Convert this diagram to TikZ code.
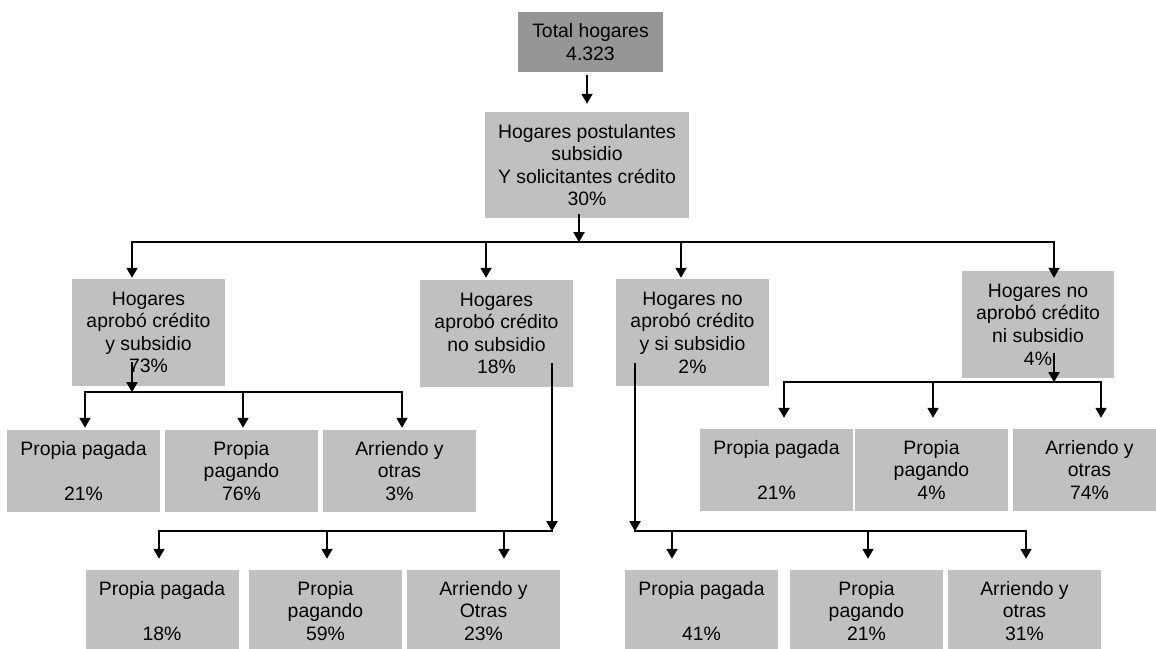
\documentclass[tikz,border=0pt]{standalone}
\usepackage{fontspec}
\setmainfont{Liberation Sans}
\usetikzlibrary{arrows.meta,calc}
\definecolor{boxgray}{HTML}{C0C0C0}
\definecolor{topgray}{HTML}{969696}
\begin{document}
\begin{tikzpicture}[x=1pt,y=-1pt,
  box/.style={fill=boxgray, draw=none, inner sep=0pt, align=center,
    font=\fontsize{19.4}{22.6}\selectfont, minimum width=153pt,
    minimum height=82pt, text=black},
  big/.style={box, minimum height=107pt},
  conn/.style={line width=1.8pt, draw=black},
  hconn/.style={conn, line cap=rect},
  arr/.style={conn, -{Triangle[width=11pt,length=10pt]}}
]
\useasboundingbox (0,0) rectangle (1156,648);

% boxes
\node[box, fill=topgray, minimum width=145pt, minimum height=60pt] (T) at (590.5,42) {Total hogares\\4.323};
\node[box, minimum width=204pt, minimum height=106pt] (P) at (587,165) {Hogares postulantes\\subsidio\\Y solicitantes crédito\\30\%};
\node[big] (A) at (148.5,332.5) {Hogares\\aprobó crédito\\y subsidio\\73\%};
\node[big] (B) at (496.5,333.5) {Hogares\\aprobó crédito\\no subsidio\\18\%};
\node[big] (C) at (692.5,332.5) {Hogares no\\aprobó crédito\\y si subsidio\\2\%};
\node[big, minimum width=152pt] (D) at (1038,324.5) {Hogares no\\aprobó crédito\\ni subsidio\\4\%};

\node[box] (A1) at (83.5,471) {Propia pagada\\~\\21\%};
\node[box] (A2) at (241.5,471) {Propia\\pagando\\76\%};
\node[box] (A3) at (399.5,471) {Arriendo y\\otras\\3\%};

\node[box] (D1) at (776.5,470) {Propia pagada\\~\\21\%};
\node[box] (D2) at (931.5,470) {Propia\\pagando\\4\%};
\node[box] (D3) at (1089.5,470) {Arriendo y\\otras\\74\%};

\node[box] (B1) at (162,611) {Propia pagada\\~\\18\%};
\node[box] (B2) at (325.5,611) {Propia\\pagando\\59\%};
\node[box] (B3) at (483.5,611) {Arriendo y\\Otras\\23\%};

\node[box] (C1) at (701.5,611) {Propia pagada\\~\\41\%};
\node[box] (C2) at (866.5,611) {Propia\\pagando\\21\%};
\node[box] (C3) at (1024.5,611) {Arriendo y\\otras\\31\%};

% top connectors
\draw[arr] ($(T.south -| P.north)+(0,3)$) -- ($(P.north)+(0,-8)$);
\coordinate (bus) at ($(P.south)+(-8,24)$);
\draw[arr] ($(P.south)+(-8,-4)$) -- (bus);
\draw[hconn] ($(bus -| A.north)+(-16.5,0)$) -- ($(bus -| D.north)+(16,0)$);
\draw[arr] ($(bus -| A.north)+(-16.5,0)$) -- ($(A.north)+(-16.5,-1)$);
\draw[arr] ($(bus -| B.north)+(-10.5,0)$) -- ($(B.north)+(-10.5,-2)$);
\draw[arr] ($(bus -| C.north)+(-11.5,0)$) -- ($(C.north)+(-11.5,-1)$);
\draw[arr] ($(bus -| D.north)+(16,0)$) -- ($(D.north)+(16,7)$);

% A group
\coordinate (abus) at ($(A.south)+(-16.5,6)$);
\draw[arr] ($(A.south)+(-16.5,-24)$) -- (abus);
\draw[hconn] ($(abus -| A1.north)+(1.5,0)$) -- ($(abus -| A3.north)+(2.5,0)$);
\draw[arr] ($(abus -| A1.north)+(1.5,0)$) -- ($(A1.north)+(1.5,-2)$);
\draw[arr] ($(abus -| A2.north)+(1.5,0)$) -- ($(A2.north)+(1.5,-2)$);
\draw[arr] ($(abus -| A3.north)+(2.5,0)$) -- ($(A3.north)+(2.5,-2)$);

% B group
\coordinate (bbus) at ($(B.south)+(55.5,144)$);
\draw[arr] ($(B.south)+(55.5,-24)$) -- (bbus);
\draw[hconn] ($(bbus -| B1.north)+(-3,0)$) -- (bbus);
\draw[arr] ($(bbus -| B1.north)+(-3,0)$) -- ($(B1.north)+(-3,-11)$);
\draw[arr] ($(bbus -| B2.north)+(1.5,0)$) -- ($(B2.north)+(1.5,-11)$);
\draw[arr] ($(bbus -| B3.north)+(20.5,0)$) -- ($(B3.north)+(20.5,-11)$);

% C group
\coordinate (cbus) at ($(C.south)+(-57.5,145)$);
\draw[arr] ($(C.south)+(-57.5,-23)$) -- (cbus);
\draw[hconn] (cbus) -- ($(cbus -| C3.north)+(1.5,0)$);
\draw[arr] ($(cbus -| C1.north)+(-29.5,0)$) -- ($(C1.north)+(-29.5,-11)$);
\draw[arr] ($(cbus -| C2.north)+(1.5,0)$) -- ($(C2.north)+(1.5,-11)$);
\draw[arr] ($(cbus -| C3.north)+(1.5,0)$) -- ($(C3.north)+(1.5,-11)$);

% D group
\coordinate (dbus) at ($(D.south)+(16,4)$);
\draw[arr] ($(D.south)+(16,-25)$) -- (dbus);
\draw[hconn] ($(dbus -| D1.north)+(7.5,0)$) -- ($(dbus -| D3.north)+(11.5,0)$);
\draw[arr] ($(dbus -| D1.north)+(7.5,0)$) -- ($(D1.north)+(7.5,-11)$);
\draw[arr] ($(dbus -| D2.north)+(1.5,0)$) -- ($(D2.north)+(1.5,-11)$);
\draw[arr] ($(dbus -| D3.north)+(11.5,0)$) -- ($(D3.north)+(11.5,-11)$);
\end{tikzpicture}
\end{document}
